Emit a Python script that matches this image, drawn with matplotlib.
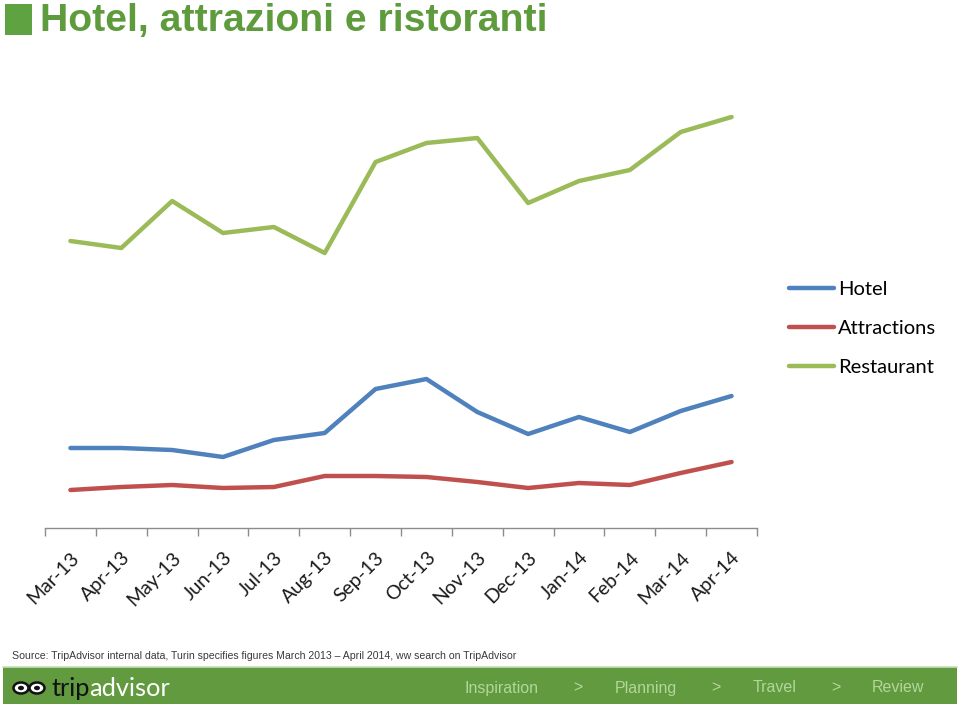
import matplotlib
matplotlib.use("Agg")
import matplotlib.pyplot as plt
from matplotlib.patches import Rectangle, Circle
from matplotlib.lines import Line2D

months = ["Mar-13", "Apr-13", "May-13", "Jun-13", "Jul-13", "Aug-13", "Sep-13",
          "Oct-13", "Nov-13", "Dec-13", "Jan-14", "Feb-14", "Mar-14", "Apr-14"]
hotel = [80, 80, 78, 71, 88, 95, 139, 149, 116, 94, 111, 96, 117, 132]
attractions = [38, 41, 43, 40, 41, 52, 52, 51, 46, 40, 45, 43, 55, 66]
restaurant = [287, 280, 327, 295, 301, 275, 366, 385, 390, 325, 347, 358, 396, 411]

series_names = ["Hotel", "Attractions", "Restaurant"]
colors = ["#4F81BD", "#C0504D", "#9BBB59"]

W, H = 960, 706
fig = plt.figure(figsize=(W / 100, H / 100), dpi=100)
fig.patch.set_facecolor("white")

def fx(px):
    return px / W

def fy(py):
    return 1 - py / H

ax = fig.add_axes([fx(45), fy(528), fx(757) - fx(45), fy(60) - fy(528)])
x = list(range(len(months)))
for vals, name, c in zip([hotel, attractions, restaurant], series_names, colors):
    ax.plot(x, vals, color=c, lw=3.2, label=name, solid_capstyle="round", solid_joinstyle="round")

ax.set_xlim(-0.5, len(months) - 0.5)
ax.set_ylim(0, 468)
for s in ["top", "right", "left"]:
    ax.spines[s].set_visible(False)
ax.spines["bottom"].set_color("#8C8C8C")
ax.spines["bottom"].set_linewidth(1.0)
ax.set_yticks([])
ax.set_xticks([i - 0.5 for i in range(len(months) + 1)], minor=False)
ax.set_xticklabels([])
ax.tick_params(axis="x", which="major", length=6, width=1.0, color="#8C8C8C")
ax.set_xticks(x, minor=True)
ax.set_xticklabels(months, minor=True, rotation=45, ha="right", va="top",
                   rotation_mode="anchor", fontsize=14, family="Lato", color="#1a1a1a")
ax.tick_params(axis="x", which="minor", length=0, pad=15)

leg = ax.legend(loc="upper left", bbox_to_anchor=(fx(771), fy(263)), bbox_transform=fig.transFigure,
                frameon=False, handlelength=2.25, handletextpad=0.18, labelspacing=1.08,
                prop={"family": "Lato", "size": 14.5})
for lh in leg.get_lines():
    lh.set_linewidth(3.2)

# Title
fig.patches.append(Rectangle((fx(5), fy(35)), fx(32) - fx(5), fy(4) - fy(35),
                             transform=fig.transFigure, facecolor="#5FA242", edgecolor="none"))
fig.text(fx(40), fy(21), "Hotel, attrazioni e ristoranti", fontsize=28.3, color="#5E9B3D",
         family="Liberation Sans", fontweight="bold", va="center", ha="left")

# Source
fig.text(fx(12), fy(656), "Source: TripAdvisor internal data, Turin specifies figures March 2013 \u2013 April 2014, ww search on TripAdvisor",
         fontsize=7.6, color="#3a3a3a", family="Liberation Sans", va="center", ha="left")

# Footer bar
fig.patches.append(Rectangle((fx(3), fy(704)), fx(957) - fx(3), fy(667) - fy(704),
                             transform=fig.transFigure, facecolor="#629A3F", edgecolor="none"))
fig.lines.append(Line2D([fx(3), fx(957)], [fy(667), fy(667)], transform=fig.transFigure,
                        color="#C9DEB8", lw=1.2))

# Logo owl eyes
for cx in (21, 37):
    fig.patches.append(Circle((fx(cx), fy(688)), 7.5 / W, transform=fig.transFigure,
                              facecolor="white", edgecolor="#111111", lw=1.8))
    fig.patches.append(Circle((fx(cx), fy(688)), 3.0 / W, transform=fig.transFigure,
                              facecolor="#111111", edgecolor="none"))
t1 = fig.text(fx(51), fy(688), "trip", fontsize=18.3, color="#111111", family="Lato", va="center", ha="left")
fig.canvas.draw()
bb = t1.get_window_extent()
fig.text(bb.x1 / W, fy(688), "advisor", fontsize=18.3, color="white", family="Lato", va="center", ha="left")

nav_items = ["Inspiration", ">", "Planning", ">", "Travel", ">", "Review"]
nav_x = [502, 578, 646, 716, 775, 836, 898]
for t, xp in zip(nav_items, nav_x):
    fig.text(fx(xp), fy(688), t, fontsize=11.5, color="#B3D69A", family="Liberation Sans",
             va="center", ha="center")

fig.savefig("out.png", dpi=100, facecolor="white")
